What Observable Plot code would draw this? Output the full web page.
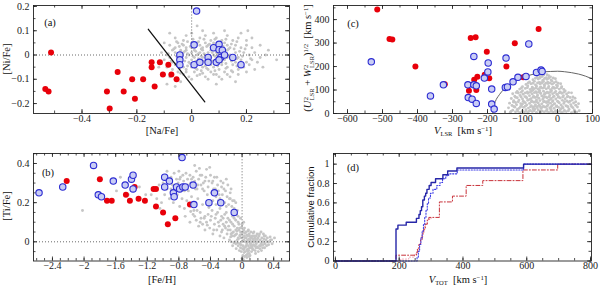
<!DOCTYPE html>
<html><head><meta charset="utf-8">
<script src="https://cdn.jsdelivr.net/npm/d3@7"></script>
<script src="https://cdn.jsdelivr.net/npm/@observablehq/plot@0.6"></script>
<style>
body{margin:0;background:#fff;}
#wrap{position:relative;width:600px;height:286px;overflow:hidden;font-family:"Liberation Serif",serif;color:#111;}
.p{position:absolute;}
.t{position:absolute;white-space:nowrap;transform:translate(-50%,-50%);font-size:10.5px;line-height:1;}
.r{transform:translate(-50%,-50%) rotate(-90deg);}
.ss{display:inline-flex;flex-direction:column;vertical-align:middle;font-size:62%;line-height:0.95;margin-left:0.5px;}
sup{font-size:65%;vertical-align:0.45em;line-height:0;}
sub{font-size:62%;vertical-align:-0.3em;line-height:0;}
</style></head><body>
<div id="wrap"></div>
<script>
// ---------- Panel (a): [Ni/Fe] vs [Na/Fe] ----------
const redA = [[-0.534,-0.14],[-0.522,-0.15],[-0.513,0.01],[-0.309,-0.15],[-0.299,-0.22],[-0.27,-0.07],[-0.248,-0.15],[-0.217,-0.10],[-0.207,-0.18],[-0.177,-0.10],[-0.146,-0.03],[-0.146,-0.05],[-0.135,-0.13],[-0.116,-0.03],[-0.105,-0.08],[-0.085,-0.04],[-0.074,-0.08],[-0.055,-0.10]];
const blueA = [[0.018,0.181],[0.009,0.042],[-0.043,0.0],[-0.043,-0.02],[-0.043,-0.04],[0.009,-0.04],[0.03,-0.03],[0.06,-0.01],[0.06,-0.03],[0.08,0.03],[0.09,-0.03],[0.10,0.044],[0.10,0.022],[0.106,-0.01],[0.10,-0.02],[0.112,0.02],[0.12,0.0],[0.15,-0.01],[0.18,-0.04]];
const fieldA = [[-0.06,0.07],[-0.02,0.08],[0.0,0.09],[0.03,0.07],[0.05,0.08],[0.07,0.06],[0.09,0.07],[0.11,0.06],[0.13,0.08],[0.15,0.06],[0.17,0.07],[0.2,0.06],[0.04,0.1],[0.12,0.1],[-0.08,0.09],[0.205,0.1],[0.02,0.12],[0.18,0.09],[-0.03,0.06],[0.08,0.09],
[-0.08,0.04],[-0.06,0.03],[-0.05,0.05],[-0.03,0.04],[-0.02,0.03],[0.0,0.05],[0.01,0.03],[0.02,0.05],[0.03,0.04],[0.04,0.03],[0.05,0.05],[0.06,0.04],[0.07,0.03],[0.08,0.05],[0.09,0.04],[0.11,0.03],[0.12,0.05],[0.13,0.04],[0.14,0.03],[0.16,0.04],[0.18,0.03],[0.2,0.04],[0.22,0.03],[0.0,0.03],[-0.04,0.02],[0.1,0.05],
[-0.11,0.01],[-0.09,0.0],[-0.07,0.02],[-0.06,0.01],[-0.05,-0.01],[-0.03,0.01],[-0.02,0.02],[-0.01,0.0],[0.0,0.01],[0.01,0.02],[0.02,0.0],[0.03,0.01],[0.04,0.02],[0.05,0.0],[0.06,0.01],[0.07,0.02],[0.08,0.0],[0.09,0.01],[0.1,0.02],[0.11,0.0],[0.12,0.01],[0.13,0.02],[0.14,0.0],[0.16,0.01],[0.17,-0.01],[0.19,0.01],[0.21,0.0],[0.23,0.01],[0.25,-0.01],[0.015,0.015],[0.045,0.005],[0.075,0.01],[0.105,0.015],
[-0.1,-0.02],[-0.08,-0.01],[-0.07,-0.03],[-0.05,-0.02],[-0.04,-0.03],[-0.02,-0.01],[-0.01,-0.03],[0.0,-0.02],[0.01,-0.01],[0.02,-0.03],[0.03,-0.02],[0.04,-0.01],[0.05,-0.03],[0.06,-0.02],[0.07,-0.01],[0.08,-0.03],[0.09,-0.02],[0.1,-0.01],[0.11,-0.03],[0.12,-0.02],[0.13,-0.01],[0.15,-0.02],[0.16,-0.03],[0.18,-0.02],[0.2,-0.03],[0.22,-0.02],[0.24,-0.03],[0.31,-0.02],[0.025,-0.015],[0.055,-0.015],[0.085,-0.005],
[-0.09,-0.05],[-0.07,-0.06],[-0.06,-0.04],[-0.03,-0.05],[-0.02,-0.06],[0.0,-0.05],[0.02,-0.06],[0.03,-0.04],[0.04,-0.05],[0.06,-0.06],[0.07,-0.04],[0.08,-0.05],[0.1,-0.06],[0.11,-0.04],[0.13,-0.05],[0.15,-0.04],[0.17,-0.06],[0.19,-0.05],[0.21,-0.04],[0.05,-0.045],[0.01,-0.04],
[-0.1,-0.08],[-0.08,-0.09],[-0.05,-0.07],[-0.03,-0.08],[-0.01,-0.09],[0.01,-0.07],[0.03,-0.08],[0.05,-0.09],[0.07,-0.07],[0.09,-0.08],[0.12,-0.07],[0.14,-0.09],[0.17,-0.08],[0.2,-0.07],[0.0,-0.1],[0.06,-0.1],[0.11,-0.1],
[-0.06,-0.13],[-0.09,-0.12],[0.16,-0.11],[-0.12,-0.05],[-0.04,-0.11],[0.09,-0.12],[0.25,0.04],[0.27,0.0],
[-0.055,0.055],[-0.035,0.045],[-0.015,0.055],[0.005,0.065],[0.025,0.055],[0.045,0.065],[0.065,0.045],[0.085,0.065],[0.105,0.045],[0.125,0.065],[0.145,0.045],[0.165,0.055],
[-0.065,0.025],[-0.045,0.035],[-0.025,0.015],[-0.005,0.035],[0.015,0.035],[0.035,0.025],[0.055,0.035],[0.075,0.035],[0.095,0.025],[0.115,0.035],[0.135,0.025],[0.155,0.025],[0.175,0.015],[0.195,0.025],
[-0.085,0.005],[-0.055,-0.005],[-0.035,-0.005],[-0.015,0.005],[0.005,-0.005],[0.025,0.005],[0.035,-0.005],[0.065,-0.005],[0.095,0.005],[0.115,0.005],[0.135,-0.005],[0.155,-0.005],[0.185,-0.005],[0.215,-0.015],
[-0.075,-0.025],[-0.055,-0.035],[-0.025,-0.025],[-0.005,-0.035],[0.015,-0.025],[0.035,-0.035],[0.045,-0.025],[0.065,-0.035],[0.075,-0.025],[0.095,-0.035],[0.105,-0.025],[0.125,-0.035],[0.145,-0.025],[0.165,-0.015],[0.185,-0.035],
[-0.045,-0.055],[-0.015,-0.045],[0.015,-0.055],[0.035,-0.065],[0.055,-0.055],[0.085,-0.065],[0.095,-0.045],[0.125,-0.055],[0.145,-0.065],[0.165,-0.045],
[-0.04,-0.075],[-0.02,-0.07],[0.02,-0.085],[0.04,-0.075],[0.08,-0.08],[0.1,-0.09],[0.13,-0.08],[0.15,-0.07],[0.23,-0.06],[0.26,-0.05],[0.28,0.02],[0.22,0.07],[-0.1,0.05],[-0.11,-0.035]];
const sepLineX = [-0.158, 0.048];
const sepLineY = [0.106, -0.193];

// ---------- Panel (b): [Ti/Fe] vs [Fe/H] ----------
const redB = [[-2.22,0.31],[-1.80,0.32],[-1.71,0.21],[-1.65,0.21],[-1.47,0.24],[-1.42,0.21],[-1.36,0.28],[-1.31,0.22],[-1.23,0.21],[-1.12,0.27],[-1.09,0.27],[-1.09,0.18],[-1.00,0.15],[-0.94,0.09],[-0.845,0.12],[-0.66,0.19]];
const blueB = [[-2.57,0.25],[-2.27,0.28],[-1.88,0.39],[-1.82,0.24],[-1.78,0.23],[-1.63,0.31],[-1.48,0.29],[-1.40,0.32],[-1.38,0.34],[-1.38,0.27],[-0.98,0.33],[-0.98,0.28],[-0.92,0.31],[-0.87,0.25],[-0.86,0.23],[-0.83,0.28],[-0.79,0.27],[-0.75,0.28],[-0.72,0.28],[-0.76,0.43],[-0.62,0.29],[-0.61,0.19],[-0.42,0.20],[-0.35,0.25],[-0.27,0.20],[-0.10,0.15]];
const fieldB = [[-1.0,0.3],[-0.97,0.34],[-0.95,0.27],[-0.93,0.31],[-0.9,0.33],[-0.88,0.29],[-0.86,0.35],[-0.85,0.25],[-0.83,0.32],[-0.81,0.3],[-0.8,0.36],[-0.78,0.33],[-0.77,0.27],[-0.75,0.34],[-0.74,0.31],[-0.72,0.29],[-0.71,0.35],[-0.69,0.32],[-0.68,0.26],[-0.66,0.34],[-0.65,0.3],[-0.63,0.28],[-0.62,0.33],[-0.6,0.31],[-0.58,0.36],[-0.57,0.27],[-0.55,0.32],[-0.54,0.375],[-0.52,0.29],[-0.51,0.34],[-0.49,0.3],[-0.48,0.26],[-0.46,0.33],[-0.45,0.37],[-0.43,0.28],[-0.42,0.31],[-0.41,0.38],[-0.39,0.25],[-0.38,0.3],[-0.36,0.27],[-0.35,0.33],[-0.33,0.23],[-0.31,0.29],[-0.3,0.26],[-0.28,0.22],[-0.27,0.31],[-0.25,0.24],[-0.23,0.27],[-0.22,0.2],[-0.2,0.32],[-0.19,0.23],[-0.17,0.19],[-0.15,0.25],[-0.13,0.18],[-0.12,0.21],[-0.1,0.17],[-0.08,0.2],[-0.06,0.16],[-0.05,0.13],
[-0.92,0.22],[-0.87,0.2],[-0.82,0.24],[-0.79,0.18],[-0.76,0.22],[-0.73,0.17],[-0.7,0.21],[-0.67,0.19],[-0.64,0.23],[-0.61,0.16],[-0.59,0.2],[-0.56,0.22],[-0.53,0.15],[-0.5,0.19],[-0.47,0.13],
[-0.72,0.13],[-0.66,0.1],[-0.62,0.14],[-0.58,0.11],[-0.55,0.08],[-0.52,0.12],[-0.5,0.09],[-0.47,0.06],[-0.45,0.1],[-0.43,0.14],[-0.41,0.07],[-0.4,0.11],[-0.38,0.16],[-0.37,0.04],[-0.35,0.09],[-0.34,0.12],[-0.32,0.06],[-0.31,0.15],[-0.29,0.08],[-0.28,0.03],[-0.27,0.11],[-0.26,0.13],[-0.25,0.06],[-0.24,0.09],[-0.23,0.02],[-0.22,0.14],[-0.21,0.07],[-0.2,0.1],[-0.19,0.04],[-0.18,0.12],[-0.17,0.08],[-0.16,0.01],[-0.15,0.06],[-0.14,0.1],[-0.13,0.03],[-0.12,0.13],[-0.11,0.05],[-0.1,0.08],[-0.09,0.0],[-0.08,0.11],[-0.07,0.04],[-0.06,0.07],[-0.05,0.02],[-0.04,0.09],[-0.03,-0.01],[-0.02,0.05],
[-0.01,0.02],[0.0,0.0],[0.0,0.04],[0.01,-0.02],[0.02,0.01],[0.02,0.06],[0.03,-0.03],[0.03,0.03],[0.04,0.0],[0.04,-0.05],[0.05,0.02],[0.05,0.05],[0.06,-0.01],[0.06,-0.04],[0.07,0.01],[0.07,0.03],[0.08,-0.02],[0.08,0.0],[0.09,0.04],[0.09,-0.06],[0.1,0.01],[0.1,-0.03],[0.11,0.02],[0.11,-0.01],[0.12,0.0],[0.12,-0.05],[0.13,0.03],[0.13,-0.02],[0.14,0.01],[0.14,-0.04],[0.15,0.0],[0.15,0.05],[0.16,-0.02],[0.16,0.02],[0.17,-0.06],[0.17,0.01],[0.18,-0.01],[0.18,0.03],[0.19,0.0],[0.2,-0.03],[0.2,0.02],[0.21,0.0],[0.22,-0.02],[0.22,0.04],[0.23,0.01],[0.24,-0.01],[0.25,0.02],[0.26,-0.03],[0.27,0.0],[0.28,0.03],[0.29,-0.01],[0.3,0.01],[0.31,-0.02],[0.32,0.02],[0.34,0.0],[0.36,0.01],[0.38,-0.01],[0.41,0.02],
[-0.02,-0.03],[-0.03,0.03],[-0.05,-0.02],[-0.06,0.01],[-0.08,-0.01],[-0.1,0.03],[-0.12,-0.02],[-0.14,0.0],[-0.01,-0.05],[0.01,-0.07],[0.02,-0.04],[0.05,-0.07],[0.07,-0.05],[0.1,-0.07],[0.03,0.07],[0.08,0.06],[0.11,0.05],[0.01,0.05],[-0.04,0.06],[0.0,-0.085],[0.04,0.02],[0.06,0.035],[0.09,0.015],[0.12,0.025],[0.14,0.045],[0.19,0.04],[0.24,0.05],[0.27,0.04],[0.05,-0.02],[0.08,-0.035],[0.13,-0.035],
[-2.02,0.16],[-1.59,0.26],[-1.54,0.33],[-1.44,0.24],[-1.3,0.28],[-1.22,0.24],[-1.15,0.24],[-1.08,0.22],[-1.04,0.17],[-1.05,0.29],[-0.95,0.36],[-1.02,0.2],[-0.98,0.24],[-0.6,0.39],
[-0.145,0.025],[-0.125,0.045],[-0.105,-0.005],[-0.085,0.035],[-0.065,0.055],[-0.045,0.015],[-0.025,0.035],[-0.005,0.075],[0.015,0.025],[0.035,0.045],[0.055,0.0],[0.075,0.055],[0.095,0.03],[0.115,-0.02],[0.135,0.015],[0.155,0.03],[0.175,-0.03],[0.195,0.015],[0.215,0.03],[0.235,-0.02],[0.255,0.0],[0.275,0.015],[0.295,0.03],[0.315,0.0],[0.335,-0.015],[0.355,0.025],[0.375,0.01],
[-0.075,-0.035],[-0.055,-0.005],[-0.035,-0.045],[-0.015,-0.015],[0.005,-0.035],[0.025,-0.055],[0.045,-0.025],[0.065,-0.065],[0.085,-0.045],[0.105,-0.01],[0.125,-0.03],[0.145,-0.015],[0.165,-0.045],[0.185,-0.025],[0.205,-0.05],[0.225,-0.035],[0.245,-0.045],[0.265,-0.015],[0.285,-0.03],[0.03,-0.075],[0.06,-0.08],[0.09,-0.075],[0.015,-0.09],
[-0.65,0.155],[-0.6,0.13],[-0.57,0.16],[-0.53,0.1],[-0.48,0.12],[-0.44,0.085],[-0.42,0.175],[-0.39,0.13],[-0.36,0.06],[-0.33,0.14],[-0.3,0.1],[-0.28,0.17],[-0.26,0.05],[-0.24,0.12],[-0.22,0.08],[-0.2,0.15],[-0.18,0.06],[-0.16,0.11],[-0.14,0.04],[-0.12,0.09],[-0.1,0.12],[-0.08,0.06],[-0.07,0.14],[-0.05,0.1],[-0.03,0.07],[-0.02,0.12],[0.0,0.09],[0.02,0.1],[-0.33,0.19],[-0.25,0.2],[-0.3,0.21],[-0.2,0.18],[-0.15,0.22],[-0.1,0.21],[-0.37,0.21],
[-0.95,0.31],[-0.9,0.27],[-0.84,0.29],[-0.79,0.32],[-0.73,0.26],[-0.69,0.29],[-0.64,0.32],[-0.59,0.27],[-0.56,0.29],[-0.53,0.34],[-0.5,0.27],[-0.47,0.31],[-0.44,0.24],[-0.4,0.34],[-0.37,0.31],[-0.34,0.27],[-0.32,0.33],[-0.29,0.24],[-0.26,0.28],[-0.24,0.3],[-0.21,0.26],[-0.18,0.29],[-0.16,0.22],[-0.14,0.27]];

// ---------- Panel (c): Toomre diagram ----------
const redC = [[-515,443],[-480,317],[-472,315],[-406,200],[-322,125],[-248,322],[-234,325],[-202,263],[-122,299],[-54,360],[-146,200],[-253,97],[-232,100],[-238,144],[-229,157],[-208,165],[-195,150],[-98,154]];
const blueC = [[-532,220],[-363,75],[-326,122],[-256,122],[-255,68],[-244,61],[-232,43],[-239,122],[-232,118],[-239,243],[-198,215],[-199,177],[-209,151],[-188,104],[-188,40],[-181,19],[-147,236],[-149,111],[-143,113],[-127,135],[-113,154],[-90,158],[-82,296],[-60,175],[-47,185],[-44,179]];
const fieldC = [[-135,4],[-120,7],[-108,3],[-95,6],[-85,2],[-72,8],[-60,5],[-50,3],[-38,7],[-25,4],[-12,6],[0,2],[12,5],[25,8],[40,3],[55,6],
[-128,14],[-115,17],[-100,12],[-90,16],[-78,13],[-65,18],[-55,15],[-44,11],[-30,17],[-18,14],[-5,12],[8,16],[20,13],[33,18],[48,15],[62,12],
[-140,24],[-122,27],[-110,22],[-97,26],[-83,23],[-70,28],[-58,25],[-47,21],[-35,27],[-22,24],[-10,22],[3,26],[16,23],[30,28],[44,25],
[-130,34],[-117,37],[-103,32],[-88,36],[-75,33],[-63,38],[-52,35],[-40,31],[-27,37],[-15,34],[-2,32],[10,36],[24,33],[38,38],[52,35],
[-137,44],[-120,47],[-105,42],[-92,46],[-80,43],[-68,48],[-55,45],[-45,41],[-32,47],[-20,44],[-8,42],[5,46],[18,43],[32,48],[46,45],[60,42],
[-125,54],[-110,57],[-98,52],[-85,56],[-73,53],[-60,58],[-50,55],[-37,51],[-25,57],[-13,54],[0,52],[14,56],[27,53],[42,58],
[-132,64],[-115,67],[-100,62],[-88,66],[-76,63],[-64,68],[-53,65],[-42,61],[-30,67],[-18,64],[-5,62],[8,66],[22,63],[36,68],[50,65],
[-122,74],[-107,77],[-93,72],[-80,76],[-68,73],[-57,78],[-45,75],[-34,71],[-22,77],[-10,74],[3,72],[17,76],[30,73],
[-128,84],[-112,87],[-98,82],[-85,86],[-72,83],[-60,88],[-48,85],[-38,81],[-26,87],[-14,84],[-2,82],[12,86],[26,83],[40,88],
[-115,94],[-100,97],[-86,92],[-74,96],[-62,93],[-51,98],[-40,95],[-29,91],[-17,97],[-5,94],[8,92],[22,96],
[-108,104],[-92,107],[-78,102],[-66,106],[-55,103],[-43,108],[-32,105],[-20,101],[-8,107],[5,104],[18,102],
[-100,114],[-85,117],[-72,112],[-60,116],[-48,113],[-37,118],[-25,115],[-13,111],[0,117],[12,114],
[-90,124],[-76,127],[-63,122],[-50,126],[-38,123],[-27,128],[-15,125],[-3,121],[9,127],
[-80,134],[-66,137],[-52,132],[-40,136],[-28,133],[-16,138],[-4,135],
[-70,144],[-55,147],[-42,142],[-30,146],[-18,143],[-6,148],
[-58,154],[-45,157],[-32,152],[-20,156],[-40,163],[-25,161],
[-90,10],[-70,20],[-50,30],[-30,10],[-10,40],[10,20],[-60,50],[-40,70],[-20,60],[0,80],[-80,60],[-100,40],[-50,90],[-30,50],[-70,100],[-10,110],[-45,130],[-20,20],[-65,30],[-35,85],
[-133,9],[-114,10],[-101,8],[-82,9],[-67,11],[-46,8],[-33,10],[-18,9],[-6,8],[6,10],[18,9],[31,11],[47,8],
[-125,30],[-106,29],[-92,31],[-77,29],[-58,30],[-43,28],[-30,31],[-18,29],[-4,30],[14,29],[28,31],[40,30],[57,28],
[-126,49],[-112,50],[-96,49],[-75,50],[-62,51],[-40,50],[-26,49],[-14,51],[2,49],[20,50],[36,52],[52,50],
[-120,69],[-104,70],[-90,71],[-70,69],[-58,70],[-38,69],[-24,71],[-12,70],[2,69],[15,70],[28,71],[44,70],
[-118,89],[-104,90],[-92,88],[-78,90],[-66,89],[-54,91],[-33,88],[-21,90],[-8,89],[5,88],[18,90],[32,89],
[-103,109],[-86,110],[-72,108],[-61,109],[-50,110],[-38,111],[-26,109],[-14,108],[-2,110],[11,109],
[-84,130],[-70,129],[-57,130],[-46,131],[-33,129],[-21,130],[-10,131],[2,129],
[-63,150],[-50,151],[-37,149],[-25,150],[-12,151],[-50,160],[-30,165]];
const arcV = [-185,-182,-180,-175,-170,-160,-150,-140,-120,-100,-80,-60,-40,-20,0,20,40,60,80,100];
const arcY = [0,27,42,60,72,92,107,119,139,153,163,171,177,179,180,178,174,168,159,147];

// ---------- Panel (d): cumulative fractions ----------
const cumSolidBlue = [[0,0],[190,0.33],[196,0.37],[222,0.40],[254,0.44],[262,0.48],[266,0.52],[270,0.56],[274,0.63],[279,0.67],[283,0.70],[287,0.74],[294,0.78],[300,0.81],[314,0.85],[337,0.89],[352,0.93],[381,0.96],[590,1.0],[803,1.0]];
const cumDottedBlue = [[0,0],[250,0],[256,0.04],[260,0.10],[264,0.17],[268,0.24],[272,0.31],[276,0.38],[280,0.45],[284,0.52],[288,0.59],[292,0.65],[298,0.70],[306,0.74],[318,0.78],[328,0.81],[336,0.85],[346,0.88],[355,0.90],[382,0.94],[590,1.0],[803,1.0]];
const cumDashRed = [[0,0],[190,0.06],[254,0.09],[258,0.13],[262,0.17],[267,0.22],[272,0.28],[277,0.33],[282,0.38],[288,0.42],[293,0.45],[326,0.61],[367,0.67],[410,0.78],[462,0.83],[588,0.94],[697,1.0],[803,1.0]];
const cumDotRed = [[0,0],[205,0.02],[230,0.04],[248,0.07],[256,0.12],[262,0.18],[268,0.25],[274,0.32],[280,0.38],[288,0.43],[300,0.46]];

// ---------- tick labels ----------
const tickA_x = [-0.4,-0.2,0,0.2], tickA_y = [-0.2,-0.1,0,0.1,0.2];
const tickC_x = [-600,-500,-400,-300,-200,-100,0,100], tickC_y = [0,100,200,300,400];
const tickB_x = [-2.4,-2,-1.6,-1.2,-0.8,-0.4,0,0.4], tickB_y = [0,0.2,0.4];
const tickD_x = [0,200,400,600,800], tickD_y = [0,0.2,0.4,0.6,0.8,1];

const fmt = d => (d < 0 ? "\u2212" : "") + Math.abs(d);
const range = (a, b, s) => { const out = []; for (let i = 0; a + i*s <= b + 1e-9; i++) out.push(+(a + i*s).toFixed(6)); return out; };

const RED = "#e8000a", BLUE = "#2c2cd2", BLUEFILL = "#c9cdf5", GRAY = "#c6c6c6", INK = "#222";

function ticks(xMaj, xMin, yMaj, yMin, fw, fh) {
  const L = 4, l = 2.5, s = {stroke: INK, strokeWidth: 0.8};
  return [
    Plot.ruleX(xMaj, {...s, insetTop: fh - L}), Plot.ruleX(xMaj, {...s, insetBottom: fh - L}),
    Plot.ruleX(xMin, {...s, insetTop: fh - l}), Plot.ruleX(xMin, {...s, insetBottom: fh - l}),
    Plot.ruleY(yMaj, {...s, insetRight: fw - L}), Plot.ruleY(yMaj, {...s, insetLeft: fw - L}),
    Plot.ruleY(yMin, {...s, insetRight: fw - l}), Plot.ruleY(yMin, {...s, insetLeft: fw - l})
  ];
}
function axes(xt, yt) {
  return [
    Plot.axisX({ticks: xt, tickSize: 0, tickPadding: 1, tickFormat: fmt, label: null, fontSize: 10}),
    Plot.axisY({ticks: yt, tickSize: 0, tickPadding: 4, tickFormat: fmt, label: null, fontSize: 10})
  ];
}
const wrap = document.getElementById("wrap");
function place(svg, left, top) {
  const d = document.createElement("div"); d.className = "p";
  d.style.left = left + "px"; d.style.top = top + "px"; d.appendChild(svg); wrap.appendChild(d);
}
const style = {fontFamily: "Liberation Serif, serif", fontSize: "10px", color: INK, background: "transparent", overflow: "visible"};
const dotted = {stroke: "#444", strokeWidth: 0.8, strokeDasharray: "1,2"};
const gray = d => Plot.dot(d, {x: p => p[0], y: p => p[1], r: 1.45, fill: GRAY});
const reds = d => Plot.dot(d, {x: p => p[0], y: p => p[1], r: 3.0, fill: RED});
const blues = d => Plot.dot(d, {x: p => p[0], y: p => p[1], r: 3.2, fill: BLUEFILL, stroke: BLUE, strokeWidth: 1.1});

// Panel (a)
{
  const ml = 33, mr = 11, mt = 5, mb = 30, W = 300, H = 143, fw = W - ml - mr, fh = H - mt - mb;
  place(Plot.plot({width: W, height: H, marginLeft: ml, marginRight: mr, marginTop: mt, marginBottom: mb, style,
    x: {domain: [-0.577, 0.357]}, y: {domain: [-0.241, 0.204]},
    marks: [
      gray(fieldA),
      Plot.ruleY([0], dotted),
      Plot.ruleX([0], {...dotted, y1: 0, y2: 0.204}),
      Plot.line(sepLineX.map((x, i) => [x, sepLineY[i]]), {x: p => p[0], y: p => p[1], stroke: "#111", strokeWidth: 1.3}),
      reds(redA), blues(blueA),
      ...ticks(tickA_x, range(-0.5, 0.3, 0.1), tickA_y, range(-0.2, 0.2, 0.05), fw, fh),
      Plot.frame({stroke: INK, strokeWidth: 0.9}),
      ...axes(tickA_x, tickA_y)
    ]}), 0, 0);
}
// Panel (c)
{
  const ml = 33, mr = 8, mt = 5, mb = 30, W = 300, H = 143, fw = W - ml - mr, fh = H - mt - mb;
  place(Plot.plot({width: W, height: H, marginLeft: ml, marginRight: mr, marginTop: mt, marginBottom: mb, style,
    x: {domain: [-640, 100]}, y: {domain: [0, 460]},
    marks: [
      gray(fieldC),
      Plot.line(arcV.map((v, i) => [v, arcY[i]]), {x: p => p[0], y: p => p[1], curve: "natural", stroke: "#555", strokeWidth: 0.9}),
      reds(redC), blues(blueC),
      ...ticks(tickC_x, range(-600, 100, 50), tickC_y, range(0, 450, 50), fw, fh),
      Plot.frame({stroke: INK, strokeWidth: 0.9}),
      ...axes(tickC_x, tickC_y)
    ]}), 300, 0);
}
// Panel (b)
{
  const ml = 33, mr = 11, mt = 10, mb = 25.5, W = 300, H = 143, fw = W - ml - mr, fh = H - mt - mb;
  place(Plot.plot({width: W, height: H, marginLeft: ml, marginRight: mr, marginTop: mt, marginBottom: mb, style,
    x: {domain: [-2.64, 0.6]}, y: {domain: [-0.098, 0.451]},
    marks: [
      gray(fieldB),
      Plot.ruleY([0], dotted),
      Plot.ruleX([0], {...dotted, y1: 0, y2: 0.451}),
      reds(redB), blues(blueB),
      ...ticks(tickB_x, range(-2.6, 0.6, 0.1), tickB_y, range(-0.05, 0.45, 0.05), fw, fh),
      Plot.frame({stroke: INK, strokeWidth: 0.9}),
      ...axes(tickB_x, tickB_y)
    ]}), 0, 143);
}
// Panel (d)
{
  const ml = 33, mr = 9, mt = 10, mb = 25.5, W = 300, H = 143, fw = W - ml - mr, fh = H - mt - mb;
  const pl = (d, o) => Plot.line(d, {x: p => p[0], y: p => p[1], curve: "step-after", ...o});
  place(Plot.plot({width: W, height: H, marginLeft: ml, marginRight: mr, marginTop: mt, marginBottom: mb, style,
    x: {domain: [-6, 803]}, y: {domain: [0, 1.11]},
    marks: [
      pl(cumDotRed, {stroke: "#f2a3b3", strokeWidth: 1, strokeDasharray: "1,2"}),
      pl(cumDashRed, {stroke: "#c8323a", strokeWidth: 1, strokeDasharray: "4,2,1,2"}),
      pl(cumDottedBlue, {stroke: "#3d3de6", strokeWidth: 1.1, strokeDasharray: "1.2,1.6"}),
      pl(cumSolidBlue, {stroke: "#2626a8", strokeWidth: 1.4}),
      ...ticks(tickD_x, range(0, 800, 50), tickD_y, range(0, 1.1, 0.1), fw, fh),
      Plot.frame({stroke: INK, strokeWidth: 0.9}),
      ...axes(tickD_x, tickD_y)
    ]}), 300, 143);
}

// ---------- text labels ----------
const labels = [
  ["(a)", 50, 23, ""], ["(c)", 353, 24, ""], ["(b)", 48, 173, ""], ["(d)", 353, 168, ""],
  ["[Ni/Fe]", 7, 59, "r"], ["[Na/Fe]", 162, 131, ""],
  ["(<i>U</i><span class='ss'><span>2</span><span>LSR</span></span> + <i>W</i><span class='ss'><span>2</span><span>LSR</span></span>)<sup>1/2</sup> &nbsp;[km s<sup>\u22121</sup>]", 309, 58, "r"],
  ["<i>V</i><sub>LSR</sub> &nbsp;[km s<sup>\u22121</sup>]", 463, 131, ""],
  ["[Ti/Fe]", 7, 206, "r"], ["[Fe/H]", 162, 279.5, ""],
  ["<span style='font-family:Liberation Sans,sans-serif;font-size:9.5px'>Cumulative fraction</span>", 311, 207, "r"],
  ["<i>V</i><sub>TOT</sub> &nbsp;[km s<sup>\u22121</sup>]", 458, 280, ""]
];
for (const [html, x, y, cls] of labels) {
  const d = document.createElement("div");
  d.className = "t " + cls; d.innerHTML = html;
  d.style.left = x + "px"; d.style.top = y + "px";
  wrap.appendChild(d);
}
</script>
</body></html>
